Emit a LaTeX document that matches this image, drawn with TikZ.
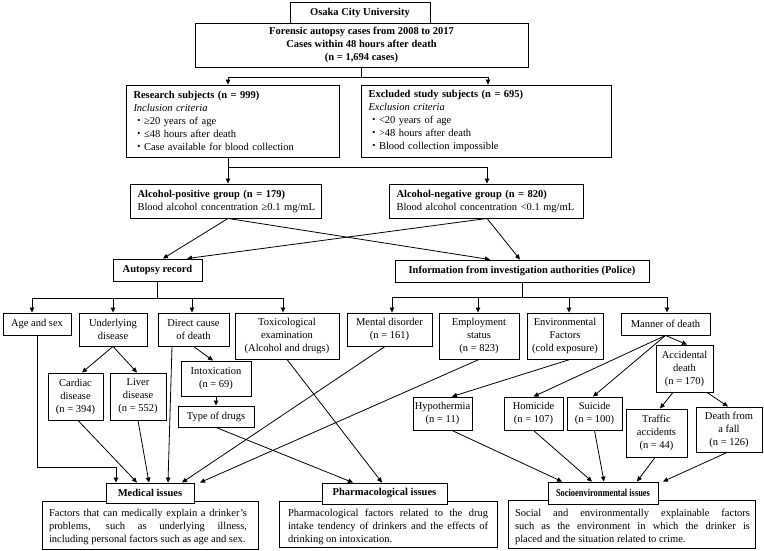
\documentclass[tikz,border=0pt]{standalone}
\usepackage{fontspec}
\setmainfont{Liberation Serif}
\newfontfamily\cjkfont{Noto Sans CJK JP}
\usetikzlibrary{arrows.meta}
\newcommand\bul{{\cjkfont ・}}
\newcommand\dfont{\fontsize{10.5}{13}\selectfont}
\begin{document}
\begin{tikzpicture}[x=1pt,y=-1pt,
  box/.style={draw, line width=0.9pt, fill=white, inner sep=0pt, align=center, font=\dfont},
  lbox/.style={box, align=left, inner xsep=7.5pt},
  txt/.style={inner sep=0pt, align=left, font=\dfont},
  arr/.style={line width=0.8pt, -{Triangle[length=5pt,width=4.5pt]}},
  ln/.style={line width=0.8pt}]
\useasboundingbox (0,0) rectangle (764,550);

% ---- top ----
\node[box, minimum width=333pt, minimum height=44pt] (forensic) at (361.5,45)
  {\textbf{Forensic autopsy cases from 2008 to 2017}\\\textbf{Cases within 48 hours after death}\\\textbf{(n = 1,694 cases)}};
\node[box, minimum width=140pt, minimum height=21pt] (osaka) at (360,12.5) {\textbf{Osaka City University}};

\node[lbox, text width=198pt, minimum height=72pt] (research) at (232.5,121)
  {\textbf{Research subjects (n = 999)}\\\textit{Inclusion criteria}\\\bul≥20 years of age\\\bul≤48 hours after death\\\bul Case available for blood collection};
\node[lbox, text width=235pt, minimum height=72pt] (excluded) at (486,121)
  {\textbf{Excluded study subjects (n = 695)}\\\textit{Exclusion criteria}\\\bul<20 years of age\\\bul>48 hours after death\\\bul Blood collection impossible};

\node[lbox, text width=176pt, minimum height=34pt] (alcpos) at (225.5,201)
  {\textbf{Alcohol-positive group (n = 179)}\\\mbox{Blood alcohol concentration ≥0.1 mg/mL}};
\node[lbox, text width=179pt, minimum height=34pt] (alcneg) at (486,201)
  {\textbf{Alcohol-negative group (n = 820)}\\\mbox{Blood alcohol concentration <0.1 mg/mL}};

\node[box, minimum width=89pt, minimum height=22pt] (autopsy) at (157.5,270) {\textbf{Autopsy record}};
\node[box, minimum width=254pt, minimum height=22pt] (info) at (522,271) {\textbf{Information from investigation authorities (Police)}};

% ---- row 1 ----
\node[box, minimum width=68pt, minimum height=22pt] (agesex) at (37,324) {Age and sex};
\node[box, minimum width=68pt, minimum height=33pt] (underlying) at (113,329.5) {Underlying\\disease};
\node[box, minimum width=71pt, minimum height=33pt] (direct) at (193.5,329.5) {Direct cause\\of death};
\node[box, minimum width=104pt, minimum height=46pt] (toxic) at (287,336) {Toxicological\\examination\\(Alcohol and drugs)};
\node[box, minimum width=85pt, minimum height=33pt] (mental) at (389.5,329.5) {Mental disorder\\(n = 161)};
\node[box, minimum width=80pt, minimum height=46pt] (employ) at (479,336) {Employment\\status\\(n = 823)};
\node[box, minimum width=76pt, minimum height=46pt] (envir) at (565,336) {Environmental\\Factors\\(cold exposure)};
\node[box, minimum width=89pt, minimum height=22pt] (manner) at (665.5,324) {Manner of death};

% ---- row 2 ----
\node[box, minimum width=55pt, minimum height=47pt] (cardiac) at (75.5,396.5) {Cardiac\\disease\\(n = 394)};
\node[box, minimum width=56pt, minimum height=47pt] (liver) at (138,396.5) {Liver\\disease\\(n = 552)};
\node[box, minimum width=70pt, minimum height=35pt] (intox) at (216,378.5) {Intoxication\\(n = 69)};
\node[box, minimum width=76pt, minimum height=21pt] (drugs) at (216,416.5) {Type of drugs};
\node[box, minimum width=57pt, minimum height=47pt] (accid) at (684.5,368.5) {Accidental\\death\\(n = 170)};
\node[box, minimum width=59pt, minimum height=33pt] (hypo) at (442.5,413.5) {Hypothermia\\(n = 11)};
\node[box, minimum width=59pt, minimum height=33pt] (homicide) at (533.5,413.5) {Homicide\\(n = 107)};
\node[box, minimum width=55pt, minimum height=33pt] (suicide) at (594.5,413.5) {Suicide\\(n = 100)};
\node[box, minimum width=61pt, minimum height=48pt] (traffic) at (656.5,433) {Traffic\\accidents\\(n = 44)};
\node[box, minimum width=66pt, minimum height=45pt] (fall) at (729,429.5) {Death from\\a fall\\(n = 126)};

% ---- bottom ----
\node[box, minimum width=216pt, minimum height=48pt] (meddesc) at (150,525) {};
\node[txt] (medtxt) at (148,527)
  {\makebox[198pt][s]{Factors that can medically explain a drinker\char"0027 s}\\\makebox[198pt][s]{problems, such as underlying illness,}\\including personal factors such as age and sex.};
\node[box, minimum width=88pt, minimum height=20pt] (medhead) at (150,493) {\textbf{Medical issues}};

\node[box, minimum width=218pt, minimum height=46pt] (phdesc) at (388,524) {};
\node[txt] (phtxt) at (388,527)
  {\makebox[200pt][s]{Pharmacological factors related to the drug}\\\makebox[200pt][s]{intake tendency of drinkers and the effects of}\\drinking on intoxication.};
\node[box, minimum width=125pt, minimum height=21pt] (phhead) at (384.5,493.5) {\textbf{Pharmacological issues}};

\node[box, minimum width=247pt, minimum height=48pt] (sodesc) at (631.5,524) {};
\node[txt] (sotxt) at (632.5,527)
  {\makebox[235pt][s]{Social and environmentally explainable factors}\\\makebox[235pt][s]{such as the environment in which the drinker is}\\placed and the situation related to crime.};
\node[box, minimum width=110pt, minimum height=22pt] (sohead) at (603,493) {\scalebox{0.8}[1]{\textbf{Socioenvironmental issues}}};

% ---- connectors: top ----
\draw[ln] (forensic.south) -- ++(0,10) coordinate (jt);
\draw[arr] (jt) -| ([xshift=-4.5pt]research.north);
\draw[arr] (jt) -| ([xshift=2pt]excluded.north);

\coordinate (rs) at ([xshift=-4.5pt]research.south);
\draw[arr] (rs) -- (rs |- alcpos.north);
\draw[ln] (rs) -- ++(0,10) coordinate (jr);
\draw[arr] (jr) -| ([xshift=1pt]alcneg.north);

\coordinate (ps) at ([xshift=2.5pt]alcpos.south);
\coordinate (ns) at ([xshift=1pt]alcneg.south);
\draw[arr] (ps) -- ([xshift=5.5pt]autopsy.north);
\draw[arr] (ps) -- ([xshift=-32pt]info.north);
\draw[arr] (ns) -- ([xshift=29.5pt]autopsy.north);
\draw[arr] (ns) -- ([xshift=-2pt]info.north);

% autopsy bus
\draw[ln] (autopsy.south) -- ++(0,17) coordinate (ab);
\draw[arr] (ab) -| ([xshift=-5pt]agesex.north);
\draw[arr] (ab) -| (underlying.north);
\draw[arr] (ab) -| ([xshift=-1.5pt]direct.north);
\draw[arr] (ab) -| ([xshift=-4pt]toxic.north);

% info bus
\draw[ln] (info.south) -- ++(0,15) coordinate (ib);
\draw[arr] (ib) -| ([xshift=2.5pt]mental.north);
\draw[arr] (ib) -| ([xshift=-1pt]employ.north);
\draw[arr] (ib) -| ([xshift=4pt]envir.north);
\draw[arr] (ib) -| ([xshift=1.5pt]manner.north);

% second level
\draw[arr] (underlying.south) -- ([xshift=6.5pt]cardiac.north);
\draw[arr] (underlying.south) -- ([xshift=-1pt]liver.north);
\draw[arr] (direct.south) -- ([xshift=-3pt]intox.north);
\draw[arr] (intox.south) -- (drugs.north);
\draw[arr] (manner.south) -- ([xshift=2.5pt]accid.north);
\draw[arr] (manner.south) -- (homicide.north);
\draw[arr] (manner.south) -- ([xshift=-1.5pt]suicide.north);
\draw[arr] ([xshift=5pt]envir.south) -- ([xshift=9.5pt]hypo.north);
\draw[arr] ([xshift=-11.5pt]accid.south) -- ([xshift=3.5pt]traffic.north);
\draw[arr] ([xshift=22.5pt]accid.south) -- ([xshift=-1pt]fall.north);

% to medical issues
\coordinate (m1) at ([xshift=-34pt]medhead.north);
\draw[arr] (agesex.south) |- ([yshift=15pt]m1) -- (m1);
\draw[arr] ([xshift=2.5pt]cardiac.south) -- ([xshift=-13pt]medhead.north);
\draw[arr] (liver.south) -- ([xshift=-1pt]medhead.north);
\draw[arr] ([xshift=-21.5pt]direct.south) -- ([xshift=18pt]medhead.north);
\draw[arr] ([xshift=-4.5pt]mental.south) -- ([xshift=32pt]medhead.north);
\draw[arr] (employ.south) -- ([xshift=50pt]medhead.north);

% to pharmacological issues
\draw[arr] (drugs.south) -- ([xshift=-31.5pt]phhead.north);
\draw[arr] (toxic.south) -- ([xshift=-2.5pt]phhead.north);

% to socioenvironmental issues
\draw[arr] ([xshift=9.5pt]hypo.south) -- ([xshift=-41pt]sohead.north);
\draw[arr] (homicide.south) -- ([xshift=-11pt]sohead.north);
\draw[arr] (suicide.south) -- ([xshift=1pt]sohead.north);
\draw[arr] ([xshift=-1.5pt]traffic.south) -- ([xshift=34pt]sohead.north);
\draw[arr] ([xshift=-2pt]fall.south) -- ([xshift=60pt]sohead.north);
\end{tikzpicture}
\end{document}
